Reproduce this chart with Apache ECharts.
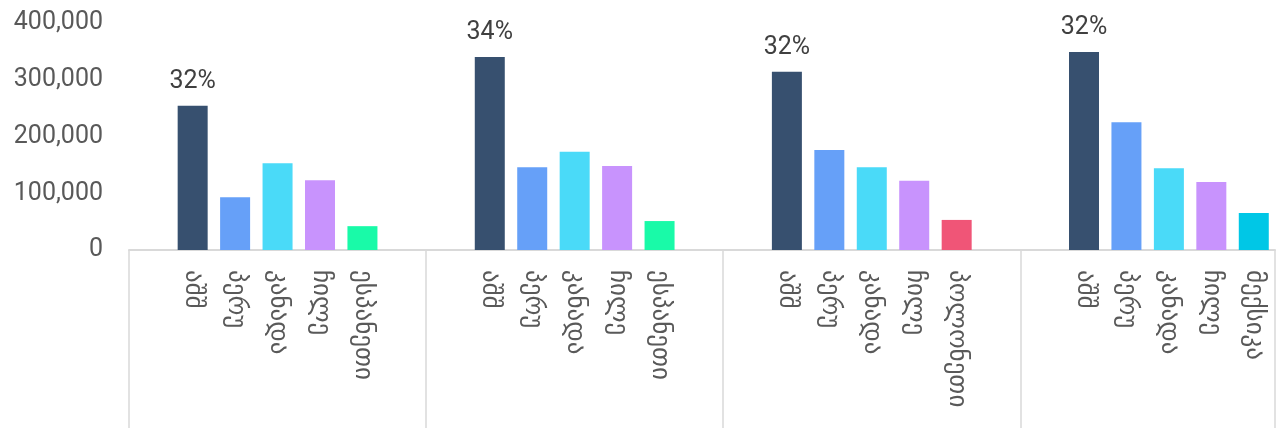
<!DOCTYPE html>
<html>
<head>
<meta charset="utf-8">
<script src="https://cdn.jsdelivr.net/npm/echarts@6/dist/echarts.min.js"></script>
<style>
  html, body { margin: 0; padding: 0; background: #fff; }
  #chart { width: 1277px; height: 428px; }
</style>
</head>
<body>
<div id="chart"></div>
<script>
// four country groups, five bars each
const groupCountries = [
  ['აშშ', 'პერუ', 'კანადა', 'ჩილე', 'ესპანეთი'],
  ['აშშ', 'პერუ', 'კანადა', 'ჩილე', 'ესპანეთი'],
  ['აშშ', 'პერუ', 'კანადა', 'ჩილე', 'პოლონეთი'],
  ['აშშ', 'პერუ', 'კანადა', 'ჩილე', 'მექსიკა']
]
const groupValues = [
  [254000, 93000, 153000, 123000, 42000],
  [340000, 146000, 173000, 148000, 51000],
  [314000, 176000, 146000, 122000, 53000],
  [349000, 225000, 144000, 120000, 65000]
]
const sharePct = ['32%', '34%', '32%', '32%']
const yTicks = [0, 100000, 200000, 300000, 400000]

const baseColors = ['#37506f', '#66a0f8', '#4adaf8', '#c893fd']
const lastColors = ['#19faa8', '#19faa8', '#f05577', '#00c7e6']

// one empty slot before and after each group's bars (last group is cut at the edge)
const categories = []
const barData = []
groupCountries.forEach((names, g) => {
  categories.push('')
  barData.push('-')
  names.forEach((name, i) => {
    categories.push(name)
    const item = {
      value: groupValues[g][i],
      itemStyle: { color: i < 4 ? baseColors[i] : lastColors[g] }
    }
    if (i === 0) {
      item.label = { show: true, formatter: sharePct[g] }
    }
    barData.push(item)
  })
  if (g < groupCountries.length - 1) {
    categories.push('')
    barData.push('-')
  }
})

const chart = echarts.init(document.getElementById('chart'))
chart.setOption({
  animation: false,
  grid: {
    left: 129,
    right: 2,
    top: 23,
    bottom: 178
  },
  xAxis: {
    type: 'category',
    data: categories,
    axisLine: { lineStyle: { color: '#d9d9d9', width: 2 } },
    axisTick: {
      show: true,
      interval: function (index) { return index % 7 === 0 },
      length: 178,
      lineStyle: { color: '#d9d9d9', width: 1.5 }
    },
    axisLabel: {
      interval: 0,
      rotate: -90,
      margin: 20,
      fontSize: 25,
      color: '#595959',
      fontFamily: '"DejaVu Sans", sans-serif'
    }
  },
  yAxis: {
    type: 'value',
    min: yTicks[0],
    max: yTicks[yTicks.length - 1],
    interval: 100000,
    splitLine: { show: false },
    axisLine: { show: false },
    axisTick: { show: false },
    axisLabel: {
      margin: 26,
      fontSize: 25,
      color: '#595959',
      fontFamily: 'Roboto, sans-serif',
      formatter: function (v) { return v.toLocaleString('en-US') }
    }
  },
  series: [
    {
      type: 'bar',
      barWidth: 30,
      data: barData,
      label: {
        position: 'top',
        distance: 12,
        fontSize: 25,
        color: '#404040',
        fontFamily: 'Roboto, sans-serif'
      }
    }
  ]
})
</script>
</body>
</html>
